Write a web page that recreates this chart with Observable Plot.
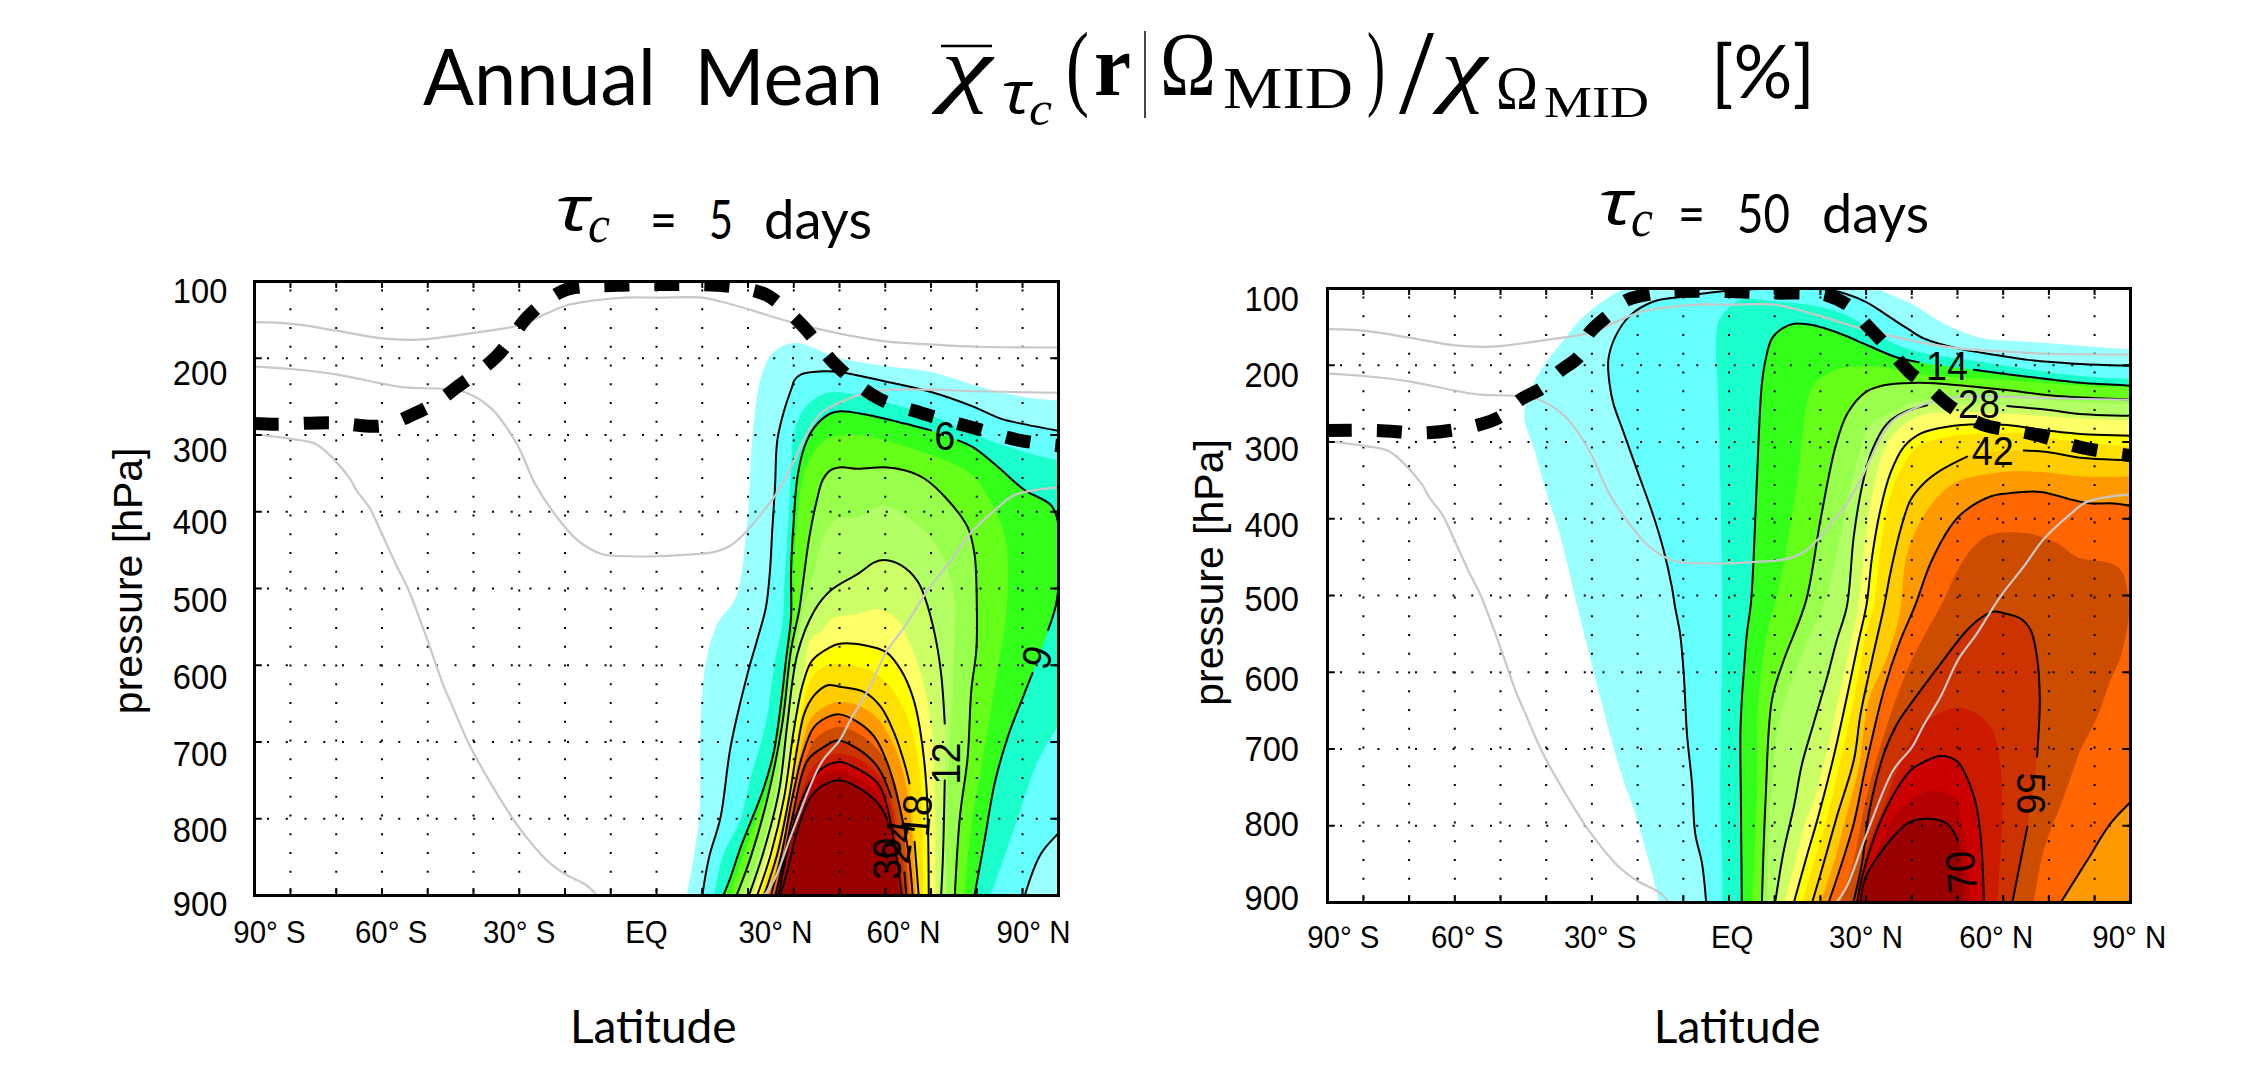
<!DOCTYPE html>
<html><head><meta charset="utf-8">
<style>html,body{margin:0;padding:0;background:#fff}#page{position:relative;width:2241px;height:1065px;overflow:hidden}#page svg,#page figure{position:absolute;margin:0;display:block}</style>
<script src="https://cdn.jsdelivr.net/npm/d3@7"></script>
<script src="https://cdn.jsdelivr.net/npm/@observablehq/plot@0.6"></script>
</head><body><div id="page"></div>
<script>
const gap=[NaN,NaN];
// fill colours of the twenty contour levels
const levelColors=["#99ffff","#66ffff","#1affcc","#33ff1a","#66ff1a","#99ff4d","#b3ff66","#ccff66","#ffff66","#ffff00","#ffe000","#ffcc00","#ff9900","#ff6600","#cc4d00","#cc3300","#cc1a00","#cc0000","#b30000","#990000"];
// tropopause and temperature-like grey curves, [lat, hPa]
const tropoLeft=[[-88,285],[-83,286],[-71,284],[-60,288],[-52.8,272],[-48,257],[-43.7,238],[-35,198],[-28.3,147],[-24,125],[-19.5,110],[-8.5,105],[2.3,104],[13.3,105],[20,110],[24.2,118],[28,135],[32.3,160],[39.4,210],[48.4,252],[58.2,272],[68.8,290],[79.4,307],[88,314]];
const tropoRight=[[-88,285],[-77,285],[-66,288],[-55,278],[-50,267],[-45.7,245],[-41,230],[-37.3,209],[-32.6,187],[-30.7,159],[-26,133],[-22.3,115],[-16.9,107],[-11.4,104],[-0.4,104],[10.5,106],[16,106],[21.5,109],[26.6,124],[29.9,146],[34.6,176],[39.5,209],[43,225],[48.1,252],[55.4,277],[66,289],[77,307],[88,318]];
const grey1=[[-88,153],[-80,155],[-70,164],[-60,174],[-54,176],[-50,175],[-40,167],[-30,157],[-23,139],[-19.6,131],[-14,125],[-7,121],[0,121],[10,121],[14,126],[20,136],[29.4,153],[40,168],[50,178],[60,182],[70,185],[88,186]];
const grey2=[[-88,211],[-80,214],[-70,221],[-60,233],[-55,238],[-46.6,240],[-42,244],[-36,266],[-30.5,312],[-26.5,364],[-22,405],[-17.3,437],[-12,455],[-5.7,458],[0,458],[6,456],[12.2,453],[16.2,444],[19.9,424],[23.5,398],[25.7,381],[29.4,342],[32.9,298],[35.9,272],[40.3,257],[45.4,246],[51.3,241],[60,241],[70,243],[88,245]];
const grey3S=[[-88,299],[-80,305],[-74.4,312],[-70,335],[-67,357],[-65.6,372],[-62.7,395],[-60,429],[-57,468],[-54.2,502],[-50.2,565],[-46.6,626],[-44.7,652],[-40.7,706],[-34.9,767],[-30.1,811],[-24,854],[-20,872],[-15.2,887],[-13,900]];
const grey3N=[[23.5,900],[25.7,880],[30.1,811],[35.9,728],[40,698],[42.5,670],[46.2,633],[50.2,583],[54.2,550],[59.3,502],[64.4,463],[68.8,427],[74.7,394],[78.3,378],[88,368]];
// left panel (tau_c = 5 days): contour polygons, [lat, hPa], one per level
const left01=[[6.6,900],[9.3,800],[9.5,700],[10.7,600],[13.3,546],[16.6,520],[18,500],[20,400],[21,300],[22.8,225],[25.3,194],[30,180],[40,200],[50,210],[60,218],[70,236],[80,250],[89,256],[89,905],[6.6,905]];
const left02=[[10,900],[11.5,850],[14,798],[16.2,706],[19.9,611],[22,567],[23.9,525],[24.8,477],[25.3,424],[25.9,368],[26.4,307],[27.9,268],[29.7,236],[30.1,229],[31.6,221],[36.7,217],[40,218],[49.8,230],[60,244],[68.8,262],[75.4,279],[80,285.5],[89,296],[89,811],[84,846],[80.5,900]];
const left03=[[12.6,900],[14.4,850],[18.4,800],[20.6,746],[23.9,676],[25.7,600],[27.5,546],[27.9,498],[28.6,433],[29.4,346],[30,298],[32,268],[34.5,253],[38.5,244],[49.8,257],[60,275],[71.7,305],[80.5,322],[89,335],[89,667],[83.4,724],[79,798],[76,850],[73,900]];
const left04=[[14.6,900],[16.2,876],[18.4,837],[21,798],[23.5,759],[25.7,711],[27.2,650],[28.3,593],[29.4,537],[29.4,477],[30,411],[30.8,355],[32.3,316],[34.5,290],[38,272],[40.3,269],[45.4,273],[54.2,285],[60,294],gap,[65.9,307],[69.5,317],[74.7,342],[80.5,372],[86.3,392],[88,424],[87.5,515],[85.6,554],gap,[82.2,610],[79.8,646],[76.8,693],[73.9,754],[71.7,828],[69.5,900]];
const left05=[[16,900],[18.8,850],[22,798],[24.6,759],[26.4,698],[28.3,620],[29.7,546],[30,477],[30.8,411],[31.6,368],[32.7,342],[35.2,316],[38,303],[45.4,301],[54.9,316],[63,333],[68.8,351],[72.5,381],[76,429],[76.8,477],[76.5,529],[76,554],[73.2,654],[70.6,746],[68.8,807],[67.3,900]];
const left06=[[17.5,900],[20.6,850],[24.3,772],[27.5,676],[29.4,580],[31.2,528],[31.9,498],[33.4,433],[35.2,381],[36.3,359],[38,346],[40.3,342],[44,344],[49.8,342],[54.2,346],[58.6,357],[63.7,385],[68,420],[69.5,455],[70,520],[69.9,580],[68.8,633],[68,720],[66.3,798],[65.2,900]];
const left07=[[18.8,900],[22.4,846],[25.7,772],[28.3,676],[30.5,576],[32.3,524],[34.5,477],[36.7,429],[39.6,409],[44,407],[49.8,392],[56.4,414],[61.5,446],[64.4,490],[65.3,529],[65.2,546],[64.8,633],[64,720],[63.3,806],[63.5,900]];
const left08=[[20.2,900],[23.5,841],[26.8,763],[28.6,676],[30.8,585],[34.5,529],[38,503],[44,481],[47.6,466],[49.8,463],[53.5,470],[57,490],[58.6,511],[60.8,559],[62.2,611],[63,676],gap,[63,750],[62.6,850],[62.2,900]];
const left09=[[21,900],[24.3,846],[27.2,776],[29.7,689],[32.3,606],[33.7,567],[36,556],[38.5,539],[44,533],[48.4,527],[52.7,541],[55.7,576],[58.2,620],[60,676],[60.8,763],[61,900]];
const left10=[[22,900],[25,846],[27.9,772],[30,685],[32,624],[34,594],[37.8,577],[40,572],[45.4,574],[50.2,583],[53.5,607],[56,641],[57.5,680],[59,759],[59.5,900]];
const left11=[[22.6,900],[26,841],[28.8,767],[30.8,693],[32.7,637],[34.5,611],[37.4,600],[40,599],[46.2,606],[50.5,624],[54.2,659],[56.4,698],[57.9,763],[58.2,900]];
const left12=[[23.5,900],[26.4,846],[29,772],[30.8,706],[32.3,663],[34.5,639],[37.4,626],[40,628],[45.4,635],[49,654],[52,689],[54.2,728],[55.3,754],gap,[56.4,830],[57.3,900]];
const left13=[[24.3,900],[27.2,841],[29.4,772],[31.6,711],[33.7,670],[36.7,654],[40,648],[44.7,654],[48.4,670],[52,706],[54.2,746],[55.7,806],[56.7,900]];
const left14=[[25,900],[27.5,841],[29.7,772],[32,715],[34.5,680],[38,666],[40,664],[44,674],[47.6,693],[50.5,728],[53,780],[55,841],[56,900]];
const left15=[[25.6,900],[27.9,846],[30.2,780],[32.7,720],[35.2,693],[40,680],[44.7,691],[49,715],[52,750],[53.8,806],[55.3,900]];
const left16=[[26,900],[27.9,850],[29.7,798],[33,724],[36.7,706],[39.6,698],[44,709],[48.4,733],[51.3,772],gap,[54.2,870],[54.6,900]];
const left17=[[26.3,900],[28.3,846],[30.8,785],[33.7,737],[36.7,720],[40,715],[44.7,724],[49,746],[51.3,785],[52.7,841],[54.2,900]];
const left18=[[26.6,900],[28.3,850],[30,806],[33,759],[36,735],[40,726],[44,735],[48.4,754],[50.2,780],[52,833],[53.6,900]];
const left19=[[26.8,900],[28.6,850],[30.8,802],[33.7,763],[36.7,743],[40,738],[44.7,750],[48.7,772],[51,806],[53.3,900]];
const left20=[[27,900],[28.6,868],[30.8,815],[33.7,772],[36.3,757],[40,750],[44,759],[48.4,780],[50.5,802],gap,[53,900]];
// right panel (tau_c = 50 days)
const right01=[[-15.2,900],[-17.2,854],[-20.5,784],[-23.8,728],[-33,519],[-34.7,476],[-36.9,423],[-39.9,367],[-42.8,306],[-44.8,267],[-42.8,224],[-39.1,189],[-36.2,167],[-32.6,141],[-28.9,122],[-23.8,103],[-20,95],[33,95],[33,100],[40,120],[45.6,141],[50,154],[55.8,165],[64.5,169],[75.5,174],[89,180],[89,905],[-15.2,905]];
const right02=[[-5,900],[-5.9,849],[-7.4,810],[-8.1,745],[-9.2,680],[-9.9,602],[-10.7,550],[-11.8,515],[-12.5,489],[-14.3,441],[-16.5,397],[-20.1,337],[-23.4,282],[-25.3,250],[-26.1,226],[-26.4,193],[-24.9,163],[-21.6,135],[-16.5,117],[-10.7,111],[-0.4,103],[10,100],[22.2,102],[29.8,117],[34.6,135],[39,152],[42.6,165],[50,178],[58.8,187],[65.4,193],[75.5,198],[89,201],[89,905],[-5,905]];
const right03=[[-1.5,900],[-1.5,853],[-1.9,767],[-1.5,519],[-2.3,250],[-2.8,163],[-1.9,139],[2.5,115],[10,117],[20,124],[26.6,137],[33.1,163],[40,180],[50,191],[60,200],[70,209],[80,215.6],[89,218],[89,905],[-1.5,905]];
const right04=[[2.8,900],[2.6,767],[2.5,680],[2.8,636],[3.3,595],[3.9,550],[4.8,510],[5.4,450],[6.5,293],[7.2,224],[8,193],[9.4,165],[11.7,152],[14.2,146],[18.5,148],[24.4,159],[30.3,174],[36.8,190],[41.5,196],gap,[53.6,206],[65.3,215],[75.5,222],[89,227],[89,905],[2.8,905]];
const right05=[[5,900],[6.1,767],[6.5,636],[8.3,550],[10.1,508],[12,458],[14.9,354],[18.2,228],[21.5,211],[24.4,204],[33.1,202],[40.5,211],[60,219],[75.5,226],[89,229],[89,905],[5,905]];
const right06=[[7.2,900],[8,767],[9.4,636],[12,584],[16.8,508],[20,402],[23.3,306],[25.9,263],[29.9,235],[33.9,226],[40.4,223],[46.3,224],[60.2,232],[71.8,240],[89,245],[89,905],[7.2,905]];
const right07=[[8.3,900],[9.1,767],[11.2,658],[14.9,593],[17.8,550],[20.9,508],[23.6,445],[25.8,380],[28.4,319],[30.6,280],[35.4,261],[40.4,248],[60.2,241],[75.5,248],[89,250],[89,905],[8.3,905]];
const right08=[[10.1,900],[12,832],[14.2,775],[16,719],[18.5,667],[21.5,606],[23.6,558],[25.8,514],[27.3,423],[29.1,358],[31.3,311],[34.6,276],[38.3,261],[43.4,252],gap,[60.9,253],[69.6,258],[77.7,264],[89,266],[89,905],[10.1,905]];
const right09=[[12,900],[14.2,854],[16.4,801],[18.5,767],[21.5,702],[23.6,645],[26.6,563],[28.4,510],[29.9,423],[31.7,358],[33.9,311],[36.8,285],[41.2,267],[47.8,261],[60.2,263],[75.5,269],[89,272],[89,905],[12,905]];
const right10=[[14.2,900],[17,840],[19.3,793],[22.9,710],[25.8,632],[28.4,558],[30.1,512],[31.3,450],[33.1,389],[35.3,341],[38.3,306],[41.9,289],[47.8,280],[55,277],[60.9,278],[69.6,285],[77.7,290],[89,292],[89,905],[14.2,905]];
const right11=[[16,900],[18.5,849],[21.5,788],[24.4,715],[27.3,636],[30.2,545],[31.7,512],[33.1,441],[35,376],[37.5,337],[41.2,306],[46.3,295],[55,289],[64.5,289],[75.5,300],[89,306],[89,905],[16,905]];
const right12=[[18.2,900],[20.7,849],[23.6,788],[27.3,715],[28.8,654],[31.3,584],[34,512],[35.3,471],[37.5,415],[39.7,376],[42.6,354],[46.3,337],[52.1,319],gap,[64.5,311],[69.6,313],[77.7,321],[89,324],[89,905],[18.2,905]];
const right13=[[20,900],[22.9,849],[25.8,784],[28.4,723],[30.6,636],[34.6,580],[37.3,525],[39,445],[43.4,389],[49.2,354],[60.2,339],[68.2,339],[77.7,345],[89,345],[89,905],[20,905]];
const right14=[[21.8,900],[24.4,854],[27.3,797],[29.9,723],[33.9,623],[37.2,563],[40.8,512],[44.1,458],[48.5,410],[51.4,391],[57.2,371],[60.9,367],[68.2,365],[75.5,376],[79.1,380],[84.2,380],[89,384],[89,762],[83.5,797],[78.4,845],[72.6,900]];
const right15=[[24.4,900],[27.3,845],[29.9,767],[33.1,697],[39,597],[43.4,545],[47,506],[50,467],[53.6,436],[57.2,421],[65.3,419],[71.8,432],[76.2,450],[83.5,458],[86,469],[87.3,500],[87.4,530],[85.7,580],[83.5,610],[80.6,658],[76.9,702],[73.3,762],[68.9,832],[66.7,900]];
const right16=[[27.2,900],[29.1,849],[30.6,784],[33.9,706],[36.8,667],[40.4,636],[46.3,589],[52.1,545],[55.4,528],[57.9,521],[60.1,523],[63.8,530],[66,545],[67.4,580],[68,636],[67.4,710],gap,[65.3,801],[62,900]];
const right17=[[28,900],[30.2,832],[33.9,775],[36.8,728],[41.9,671],[49.2,647],[53.6,652],[57.2,671],[58.7,693],[59.8,767],[58.7,900]];
const right18=[[28,900],[29.5,858],[33.9,784],[39.7,728],[42.6,717],[46.3,709],[49.9,716],[53.6,762],[55,810],[55.8,900]];
const right19=[[29.1,900],[31.7,845],[35.3,797],[39.7,767],[44.1,755],[49.2,762],[51.4,810],[52.8,900]];
const right20=[[28.8,900],[29.9,867],[36,814],[39.7,795],[43.7,791],[47.7,797],[50.1,819],gap,[51.4,900]];
const leftLevels=[left01,left02,left03,left04,left05,left06,left07,left08,left09,left10,left11,left12,left13,left14,left15,left16,left17,left18,left19,left20];
const rightLevels=[right01,right02,right03,right04,right05,right06,right07,right08,right09,right10,right11,right12,right13,right14,right15,right16,right17,right18,right19,right20];
// contour labels: value, lat, hPa, rotation
const leftLabels=[["6",63,303,0],["6",83,589,110],["12",63.4,728,-90],["18",57,796,-85],["24",53,830,-80],["30",50.5,852,-90]];
const rightLabels=[["14",47.7,202,0],["28",54.7,252,0],["42",57.7,313,0],["56",66,758,90],["70",51,860,-95]];
// axis text: placed where the reference places it
const latTicks=[-80,-70,-60,-50,-40,-30,-20,-10,0,10,20,30,40,50,60,70,80];
const pTicks=[100,200,300,400,500,600,700,800,900];
const latText=["90° S","60° S","30° S","EQ","30° N","60° N","90° N"];
const leftLatPos=[-84.6,-58,-30,-2.2,26,54,82.4];
const rightLatPos=[-84.4,-57.3,-28.2,0.7,30,58.5,87.6];
const leftPPos=[113,220,320,414,516,616,716,816,912];
const rightPPos=[114,213,310,409,505,610,701,799,895];
const LATMAX=87.86, EDGE=89, sans="'Liberation Sans',Arial,sans-serif", thin="Lato,'Liberation Sans',sans-serif";
const X=d=>d[0], Y=d=>d[1], curve="catmull-rom";
// Where a contour runs along the map edge, carry it on past the frame along its own slope:
// the smoothed curve then turns the corner where the clip hides it, not inside the plot.
function pastEdge(poly){
  const out=[];
  poly.forEach((d,i)=>{
    const a=poly[i-1], b=poly[i+1];
    if(d[0]===EDGE && a && a[0]!==EDGE){ const s=(d[1]-a[1])/(EDGE-a[0]); out.push(d,[EDGE+50,d[1]+s*50]); }
    else if(d[0]===EDGE && b && b[0]!==EDGE){ const s=(b[1]-d[1])/(b[0]-EDGE); out.push([EDGE+50,d[1]+s*50],d); }
    else out.push(d);
  });
  return out;
}

function panel({levels,tropo,labels,latPos,pPos,width,left,marginLeft,marginRight,marginTop,marginBottom,latitudeX,latitudeP,pressureX,pressureP,yLatLabel,pLabelX}){
  const marks=[];
  const smooth=levels.map(pastEdge);
  smooth.forEach((poly,i)=>marks.push(Plot.line(poly.filter(d=>isFinite(d[0])),{x:X,y:Y,curve,fill:levelColors[i],stroke:"none",clip:true})));
  smooth.forEach((poly,i)=>{ if(i%2==1) marks.push(Plot.line(poly,{x:X,y:Y,curve,stroke:"#000",strokeWidth:2,clip:true}));});
  marks.push(Plot.ruleY(pTicks.slice(1,-1),{stroke:"#000",strokeWidth:2,strokeDasharray:"2 16.75",strokeDashoffset:-13}));
  marks.push(Plot.ruleX(latTicks,{stroke:"#000",strokeWidth:2,strokeDasharray:"2 16.75",strokeDashoffset:-8.5}));
  [grey1,grey2,grey3S,grey3N].forEach(g=>marks.push(Plot.line(g,{x:X,y:Y,curve,stroke:"#c8c8c8",strokeWidth:2.2,clip:true})));
  marks.push(Plot.line(tropo,{x:X,y:Y,curve,stroke:"#000",strokeWidth:13,strokeDasharray:"25 25",strokeLinecap:"butt",strokeLinejoin:"round",clip:true}));
  marks.push(Plot.text(labels,{x:d=>d[1],y:d=>d[2],text:d=>d[0],rotate:d=>d[3],fontSize:41,fontFamily:sans,fill:"#000",className:"squeeze"}));
  // inner tick marks on all four sides
  marks.push(Plot.ruleX(latTicks,{y1:100,y2:109,stroke:"#000",strokeWidth:2}));
  marks.push(Plot.ruleX(latTicks,{y1:891,y2:900,stroke:"#000",strokeWidth:2}));
  marks.push(Plot.ruleY(pTicks.slice(1,-1),{x1:-LATMAX,x2:-LATMAX+1.7,stroke:"#000",strokeWidth:2}));
  marks.push(Plot.ruleY(pTicks.slice(1,-1),{x1:LATMAX-1.7,x2:LATMAX,stroke:"#000",strokeWidth:2}));
  marks.push(Plot.frame({stroke:"#000",strokeWidth:3}));
  marks.push(Plot.text(latText,{x:(d,i)=>latPos[i],y:()=>yLatLabel,text:d=>d,fontSize:32,fontFamily:sans,fill:"#000",className:"squeeze"}));
  marks.push(Plot.text(pTicks,{x:()=>pLabelX,y:(d,i)=>pPos[i],text:d=>String(d),textAnchor:"end",fontSize:35.5,fontFamily:sans,fill:"#000",className:"squeeze"}));
  marks.push(Plot.text(["Latitude"],{x:()=>latitudeX,y:()=>latitudeP,text:d=>d,fontSize:46,fontFamily:thin,fill:"#000"}));
  marks.push(Plot.text(["pressure [hPa]"],{x:()=>pressureX,y:()=>pressureP,text:d=>d,rotate:-90,fontSize:41,fontFamily:sans,fill:"#000"}));
  const p=Plot.plot({width,height:1065,marginLeft,marginRight,marginTop,marginBottom,
    x:{domain:[-LATMAX,LATMAX],axis:null},y:{domain:[100,900],reverse:true,axis:null},
    style:{background:"transparent",overflow:"visible"},marks});
  p.style.left=left+"px"; p.style.top="0px";
  return p;
}
const page=document.getElementById("page");
page.appendChild(panel({levels:leftLevels,tropo:tropoLeft,labels:leftLabels,latPos:leftLatPos,pPos:leftPPos,width:1120,left:0,marginLeft:254,marginRight:62,marginTop:281,marginBottom:170,latitudeX:-0.7,latitudeP:1073,pressureX:-115.4,pressureP:490,yLatLabel:949,pLabelX:-93.8}));
page.appendChild(panel({levels:rightLevels,tropo:tropoRight,labels:rightLabels,latPos:rightLatPos,pPos:rightPPos,width:1121,left:1120,marginLeft:207,marginRight:111,marginTop:288,marginBottom:163,latitudeX:1.8,latitudeP:1064,pressureX:-113.6,pressureP:470,yLatLabel:946,pLabelX:-94.1}));
// tick labels in the reference are slightly narrower than the font
page.querySelectorAll(".squeeze text").forEach(t=>{t.setAttribute("textLength",t.getComputedTextLength()*0.92);t.setAttribute("lengthAdjust","spacingAndGlyphs");});

// title and panel headings as text
const sv=d3.select(page).append("svg").attr("width",2241).attr("height",1065).style("left","0").style("top","0").style("pointer-events","none");
const serif="'Liberation Serif',serif", open="'Open Sans',sans-serif";
const pieces=[
 ["Annual  Mean",423,460,105,78,thin,"normal","normal"],
 ["χ",941,51,96,85,serif,"italic","normal"],["τ",1001,30,113,58,open,"italic","normal"],["c",1029,23,125,48,serif,"italic","normal"],
 ["(",1066,23,98,95,serif,"normal","normal"],["r",1094,37,95,87,serif,"normal","bold"],["|",1142,6,98,95,serif,"normal","normal"],
 ["Ω",1160,56,95,90,serif,"normal","normal"],["MID",1223,130,108,60,serif,"normal","normal"],[")",1367,18,98,95,serif,"normal","normal"],
 ["/",1399,35,113,120,serif,"normal","normal"],["χ",1441,46,96,85,serif,"italic","normal"],["Ω",1496,42,108,62,serif,"normal","normal"],
 ["MID",1544,105,117,44,serif,"normal","normal"],["[%]",1711,104,98,74,thin,"normal","normal"],
 ["τ",555,35,230,62,open,"italic","normal"],["c",588,22,242,52,serif,"italic","normal"],["=",650,27,239,55,thin,"normal","normal"],["5",709,24,239,55,thin,"normal","normal"],["days",764,108,239,55,thin,"normal","normal"],
 ["τ",1598,35,224,62,open,"italic","normal"],["c",1631,22,236,52,serif,"italic","normal"],["=",1678,27,233,55,thin,"normal","normal"],["50",1737,53,233,55,thin,"normal","normal"],["days",1822,107,233,55,thin,"normal","normal"]];
pieces.forEach(([t,x,w,y,s,f,st,wt])=>sv.append("text").text(t).attr("x",x).attr("y",y).attr("font-size",s).attr("font-family",f).attr("font-style",st).attr("font-weight",wt).attr("textLength",w).attr("lengthAdjust","spacingAndGlyphs").attr("fill","#000").style("white-space","pre"));
sv.append("line").attr("x1",941).attr("x2",992).attr("y1",46).attr("y2",46).attr("stroke","#000").attr("stroke-width",2.5);
</script></body></html>
